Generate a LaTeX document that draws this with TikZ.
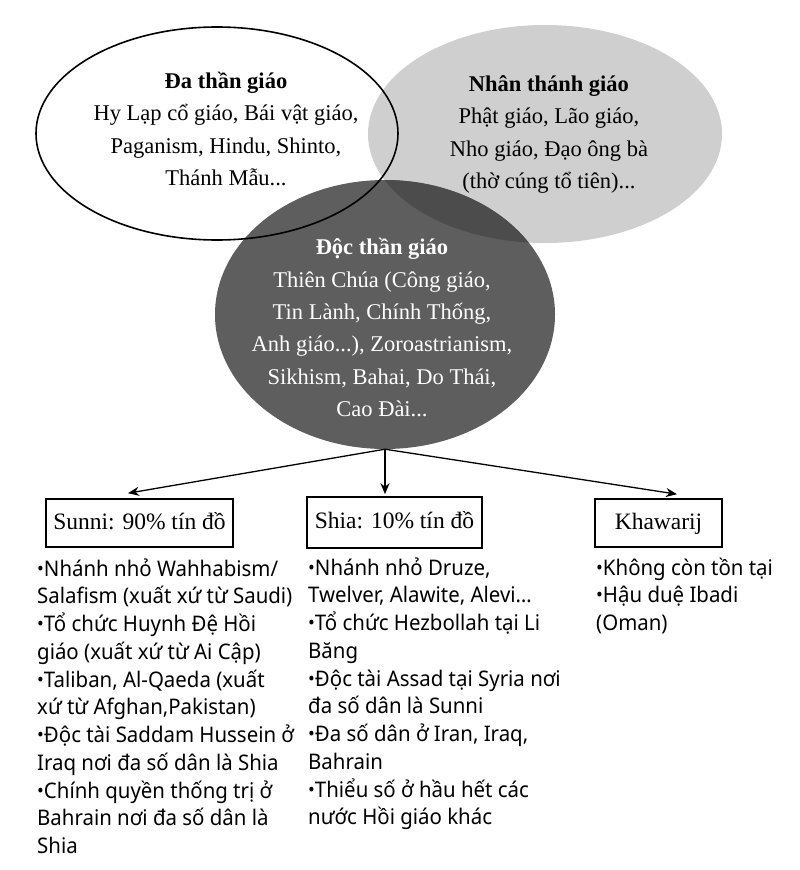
\documentclass[tikz,border=0pt]{standalone}
\usepackage{fontspec}
\setmainfont{Liberation Serif}
\newfontfamily\listfont[FakeStretch=0.95]{Noto Sans}
\usetikzlibrary{shapes.geometric,arrows.meta,calc}
\newcommand\topfix[1]{\rule{0pt}{#1}}
\newcommand\bl{\raisebox{1pt}{\fontsize{19pt}{19pt}\selectfont •}}
\definecolor{lightg}{HTML}{CFCFCF}
\definecolor{darkg}{HTML}{5E5E5E}
\definecolor{darkerg}{HTML}{4C4C4C}
\tikzset{
  ellshape/.style={ellipse, inner sep=0pt},
  elltext/.style={align=center, anchor=north, inner sep=0pt,
    font=\fontsize{22.5pt}{32.4pt}\selectfont},
  boxnode/.style={draw, line width=1.6pt, inner sep=0pt, text height=17pt, text depth=5pt,
    font=\fontsize{23.5pt}{28pt}\selectfont},
  listtext/.style={align=left, anchor=north west, inner sep=0pt,
    font=\listfont\fontsize{21.5pt}{27.75pt}\selectfont},
  arr/.style={-{Stealth[length=11pt,width=9pt,inset=3.5pt]}, line width=1.3pt}
}
\begin{document}
\begin{tikzpicture}[x=1pt,y=-1pt]
\useasboundingbox (0,0) rectangle (800,870);
\fill[white] (0,0) rectangle (800,870);
% ellipses
\node[ellshape, fill=lightg, minimum width=354pt, minimum height=218pt] (e2) at (545,134) {};
\node[ellshape, fill=darkg, minimum width=340pt, minimum height=269pt] (e3) at (385,314.5) {};
\begin{scope}
  \clip (545,134) ellipse [x radius=177pt, y radius=109pt];
  \fill[darkerg] (385,314.5) ellipse [x radius=170pt, y radius=134.5pt];
\end{scope}
\node[ellshape, draw, line width=1.6pt, minimum width=362pt, minimum height=213pt] (e1) at (217,133.5) {};
% ellipse texts
\node[elltext] (t1) at (226,62) {\topfix{26pt}\textbf{Đa thần giáo}\\Hy Lạp cổ giáo, Bái vật giáo,\\Paganism, Hindu, Shinto,\\Thánh Mẫu...};
\node[elltext] (t2) at (549,65) {\topfix{26pt}\textbf{Nhân thánh giáo}\\Phật giáo, Lão giáo,\\Nho giáo, Đạo ông bà\\(thờ cúng tổ tiên)...};
\node[elltext, text=white] (t3) at (382,228.5) {\topfix{26pt}\textbf{Độc thần giáo}\\Thiên Chúa (Công giáo,\\Tin Lành, Chính Thống,\\Anh giáo...), Zoroastrianism,\\Sikhism, Bahai, Do Thái,\\Cao Đài...};
% boxes
\node[boxnode, minimum width=187pt, minimum height=48pt] (sunni) at (139.5,523) {Sunni: 90\% tín đồ};
\node[boxnode, minimum width=175pt, minimum height=51pt] (shia) at (394.5,522.5) {Shia: 10\% tín đồ};
\node[boxnode, minimum width=127pt, minimum height=48pt] (khaw) at (658.5,523) {Khawarij};
% arrows
\draw[arr] (e3.south) -- ($(sunni.north)+(-11.5,-5)$);
\draw[arr] (e3.south) -- ($(e3.south |- shia.north)+(0,-2)$);
\draw[arr] (e3.south) -- ($(khaw.north)+(18.5,-4)$);
% lists
\node[listtext] (l1) at (37,552) {\topfix{24pt}\bl Nhánh nhỏ Wahhabism/\\Salafism (xuất xứ từ Saudi)\\\bl Tổ chức Huynh Đệ Hồi\\giáo (xuất xứ từ Ai Cập)\\\bl Taliban, Al-Qaeda (xuất\\xứ từ Afghan,Pakistan)\\\bl Độc tài Saddam Hussein ở\\Iraq nơi đa số dân là Shia\\\bl Chính quyền thống trị ở\\Bahrain nơi đa số dân là\\Shia};
\node[listtext] (l2) at (308,551) {\topfix{24pt}\bl Nhánh nhỏ Druze,\\Twelver, Alawite, Alevi…\\\bl Tổ chức Hezbollah tại Li\\Băng\\\bl Độc tài Assad tại Syria nơi\\đa số dân là Sunni\\\bl Đa số dân ở Iran, Iraq,\\Bahrain\\\bl Thiểu số ở hầu hết các\\nước Hồi giáo khác};
\node[listtext] (l3) at (596,551) {\topfix{24pt}\bl Không còn tồn tại\\\bl Hậu duệ Ibadi\\(Oman)};
\end{tikzpicture}
\end{document}
